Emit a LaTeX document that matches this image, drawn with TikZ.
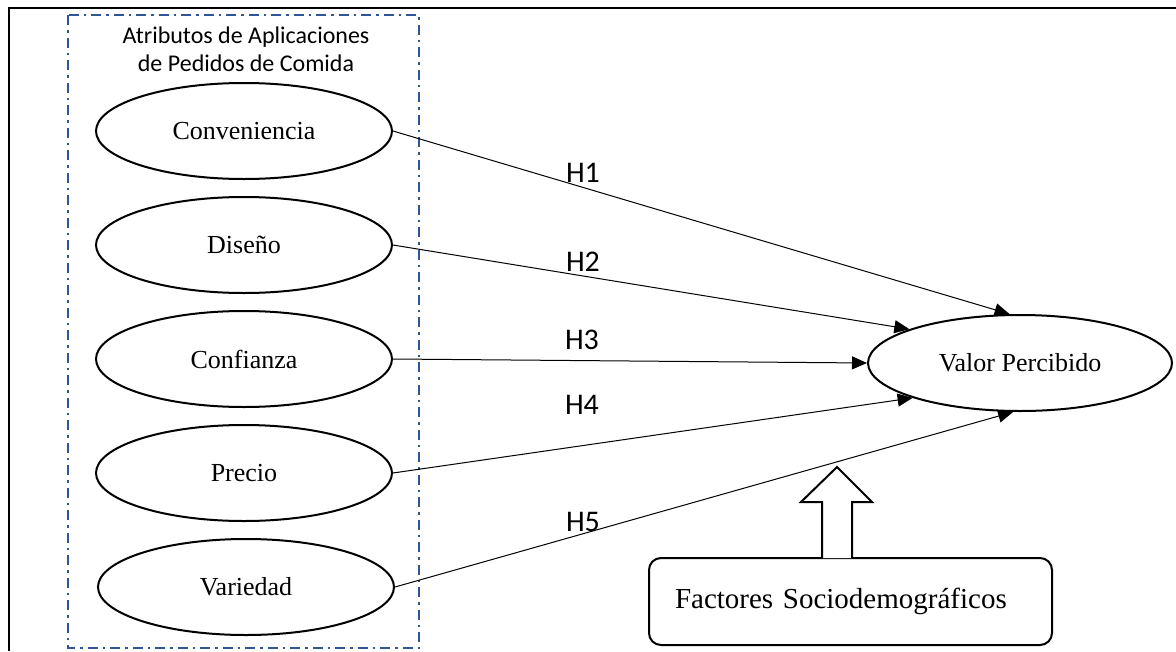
\documentclass[tikz,border=0pt]{standalone}
\usepackage{fontspec}
\setmainfont{Liberation Serif}
\newfontfamily\labelfont{Carlito}
\usetikzlibrary{shapes.geometric,arrows.meta}

\definecolor{groupblue}{HTML}{2F5597}

\tikzset{
  construct/.style={ellipse, draw, line width=2pt, minimum width=296pt, minimum height=96pt,
    inner sep=0pt, font=\fontsize{26}{30}\selectfont},
  conn/.style={line width=1pt, -{Triangle[length=15pt,width=13pt]}},
  hyp/.style={font=\labelfont\fontsize{30}{34}\selectfont, inner sep=0pt},
  groupframe/.style={draw=groupblue, line width=2pt, dash pattern=on 10pt off 5pt on 2.5pt off 5pt},
  factorbox/.style={draw, line width=2pt, rounded corners=12pt, minimum width=403pt, minimum height=87pt,
    text width=351pt, inner xsep=26pt, align=left, font=\fontsize{29}{33}\selectfont},
}

\begin{document}
\begin{tikzpicture}[x=1pt,y=-1pt]
  \useasboundingbox (0,0) rectangle (1176,651);

  % frame edges (top and left)
  \draw[line width=2pt] (9,651) -- (9,7.5) -- (1176,7.5);

  % group of app attributes
  \draw[groupframe] (68,15) rectangle (419,648);
  \node[font=\labelfont\fontsize{24}{28}\selectfont, align=center, anchor=north, inner sep=0pt]
    (grp) at (246,27) {Atributos de Aplicaciones\\de Pedidos de Comida};

  % attribute constructs
  \node[construct] (c1) at (244,131) {Conveniencia};
  \node[construct] (c2) at (244,245) {Diseño};
  \node[construct] (c3) at (244,359) {Confianza};
  \node[construct] (c4) at (244,473) {Precio};
  \node[construct] (c5) at (246,587) {Variedad};

  % outcome construct
  \node[construct, minimum width=304pt] (vp) at (1020,363) {Valor Percibido};

  % hypothesised paths
  \draw[conn] (c1.east) -- (vp.102);
  \draw[conn] (c2.east) -- (vp.163);
  \draw[conn] (c3.east) -- (vp.180);
  \draw[conn] (c4.east) -- (vp.198);
  \draw[conn] (c5.east) -- (vp.262);

  \node[hyp] (h1) at (583,173) {H1};
  \node[hyp] (h2) at (583,262) {H2};
  \node[hyp] (h3) at (582,340) {H3};
  \node[hyp] (h4) at (582,405) {H4};
  \node[hyp] (h5) at (583,522) {H5};

  % moderating factors
  \node[factorbox] (fs) at (850.5,601.5) {Factores Sociodemográficos};

  % hollow block arrow rising from the factors box
  \coordinate (ab) at (837,558);
  \draw[line width=2pt, fill=white, line join=miter]
    ([xshift=-15pt]ab) -- ++(0,-56) -- ++(-21,0) -- (837,467) -- (872,502) -- ++(-20,0) -- ([xshift=15pt]ab);
\end{tikzpicture}
\end{document}
